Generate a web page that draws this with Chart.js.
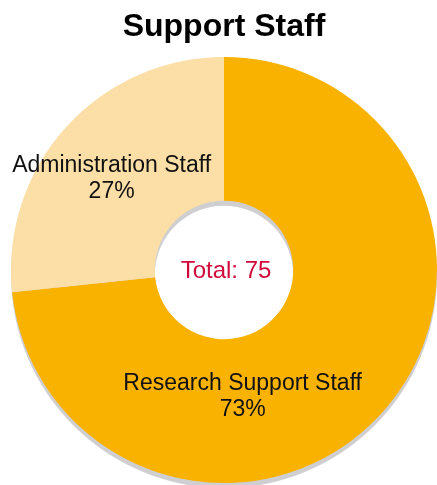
<!DOCTYPE html>
<html>
<head>
<meta charset="utf-8">
<script src="https://cdn.jsdelivr.net/npm/chart.js@4"></script>
<style>
  html, body { margin: 0; padding: 0; background: #fff; }
  #wrap { width: 437px; height: 485px; }
</style>
</head>
<body>
<div id="wrap"><canvas id="staffChart" width="437" height="485"></canvas></div>
<script>
const categories = ["Research Support Staff", "Administration Staff"];
const headcount = [55, 20];
const sliceColors = ["#F9B200", "#FCDFA6"];
const FONT = "'Liberation Sans', Arial, Helvetica, sans-serif";

const total = headcount.reduce((a, b) => a + b, 0);

// where each slice's label sits: fraction along the arc, fraction of the radius
const labelSpots = [
  { along: 0.65, out: 0.6 },
  { along: 0.47, out: 0.68 }
];

// grey ring under the doughnut, dropped a few px down
const ringShadow = {
  id: "ringShadow",
  beforeDatasetsDraw(chart) {
    const arc = chart.getDatasetMeta(0).data[0];
    if (!arc) return;
    const { x, y, outerRadius, innerRadius } = arc.getProps(["x", "y", "outerRadius", "innerRadius"], true);
    const c = chart.ctx;
    c.save();
    c.fillStyle = "#CFCFD1";
    c.beginPath();
    c.arc(x, y + 5, outerRadius, 0, Math.PI * 2);
    c.arc(x, y + 5, innerRadius, 0, Math.PI * 2, true);
    c.fill("evenodd");
    c.restore();
  }
};

const sliceLabels = {
  id: "sliceLabels",
  afterDatasetsDraw(chart) {
    const c = chart.ctx;
    const meta = chart.getDatasetMeta(0);
    c.save();
    c.textAlign = "center";
    c.textBaseline = "middle";
    meta.data.forEach((arc, i) => {
      const p = arc.getProps(["x", "y", "startAngle", "endAngle", "outerRadius"], true);
      const spot = labelSpots[i];
      const a = p.startAngle + (p.endAngle - p.startAngle) * spot.along;
      const r = p.outerRadius * spot.out;
      const lx = p.x + Math.cos(a) * r;
      const ly = p.y + Math.sin(a) * r;
      const pct = Math.round(headcount[i] / total * 100) + "%";
      c.fillStyle = "#111";
      c.font = "23px " + FONT;
      c.fillText(categories[i], lx, ly - 13);
      c.fillText(pct, lx, ly + 13);
    });
    // total in the hole
    const first = meta.data[0];
    if (first) {
      c.fillStyle = "#D20A3C";
      c.font = "24px " + FONT;
      c.fillText("Total: " + total, first.x + 2, first.y + 1);
    }
    c.restore();
  }
};

new Chart(document.getElementById("staffChart"), {
  type: "doughnut",
  data: {
    labels: categories,
    datasets: [{
      data: headcount,
      backgroundColor: sliceColors,
      borderWidth: 0,
      hoverOffset: 0
    }]
  },
  options: {
    responsive: false,
    animation: false,
    cutout: "32.5%",
    layout: { padding: { left: 11, right: 0, top: 0, bottom: 2 } },
    plugins: {
      legend: { display: false },
      tooltip: { enabled: false },
      title: {
        display: true,
        text: "Support Staff",
        color: "#000",
        font: { family: FONT, size: 32, weight: "bold" },
        padding: { top: 8, bottom: 10.6 }
      }
    }
  },
  plugins: [ringShadow, sliceLabels]
});
</script>
</body>
</html>
